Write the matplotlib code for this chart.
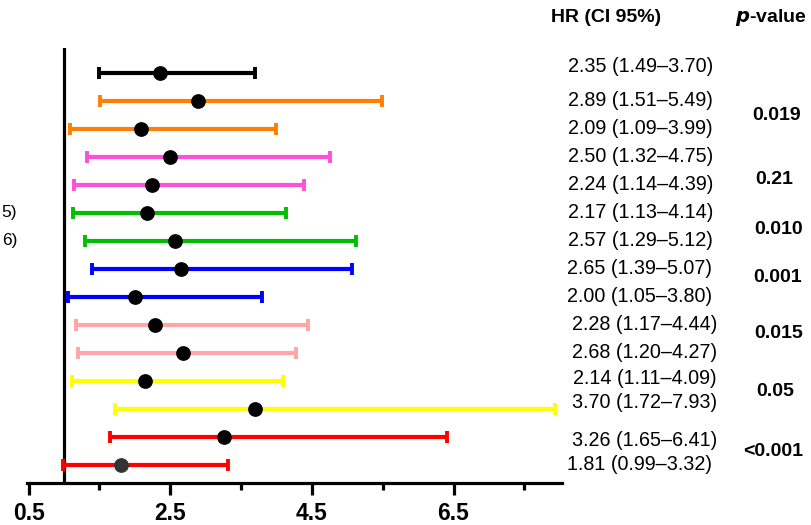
import matplotlib
matplotlib.use("Agg")
import matplotlib.pyplot as plt
from matplotlib.transforms import blended_transform_factory

plt.rcParams['font.family'] = ['Liberation Sans', 'DejaVu Sans']

# ---- data ----
hr = [2.35, 2.89, 2.09, 2.50, 2.24, 2.17, 2.57, 2.65, 2.00, 2.28, 2.68, 2.14, 3.70, 3.26, 1.81]
lo = [1.49, 1.51, 1.09, 1.32, 1.14, 1.13, 1.29, 1.39, 1.05, 1.17, 1.20, 1.11, 1.72, 1.65, 0.99]
hi = [3.70, 5.49, 3.99, 4.75, 4.39, 4.14, 5.12, 5.07, 3.80, 4.44, 4.27, 4.09, 7.93, 6.41, 3.32]
colors = ['#000000', '#FF8000', '#FF8000', '#FF50D8', '#FF50D8', '#00BF00', '#00BF00',
          '#0000FF', '#0000FF', '#FFA6A6', '#FFA6A6', '#FFFF00', '#FFFF00', '#FF0000', '#FF0000']
marker_colors = ['#000000'] * 14 + ['#333333']
pvals = ['0.019', '0.21', '0.010', '0.001', '0.015', '0.05', '<0.001']
left_fragments = ['5)', '6)']
major_ticks = [0.5, 2.5, 4.5, 6.5]
minor_ticks = [1.5, 3.5, 5.5, 7.5]

# ---- layout (pixels) ----
W, H = 812, 525
fig = plt.figure(figsize=(W / 100, H / 100), dpi=100)
ax_left, ax_right, ax_top, ax_bot = 26.7, 562.3, 48, 483
ax = fig.add_axes([ax_left / W, 1 - ax_bot / H, (ax_right - ax_left) / W, (ax_bot - ax_top) / H])

px_per_unit = 70.8
x0_px = 28.7  # pixel of 0.5
ax.set_xlim(0.5 - (x0_px - ax_left) / px_per_unit, 0.5 + (ax_right - x0_px) / px_per_unit)
row0, row_step = 73, 28
ax.set_ylim((ax_bot - row0) / row_step, (ax_top - row0) / row_step)

n = len(hr)
for i in range(n):
    ax.errorbar([hr[i]], [i], xerr=[[hr[i] - lo[i]], [hi[i] - hr[i]]],
                fmt='none', ecolor=colors[i], elinewidth=3.0, capsize=4.4, capthick=2.8,
                clip_on=False, zorder=2)
    ax.plot([hr[i]], [i], 'o', color=marker_colors[i], markersize=9.6, zorder=3, clip_on=False)

ax.axvline(1.0, color='black', lw=2.3, zorder=1)

for s in ['top', 'right', 'left']:
    ax.spines[s].set_visible(False)
ax.spines['bottom'].set_linewidth(2.3)
ax.set_yticks([])
ax.set_xticks(major_ticks)
ax.set_xticks(minor_ticks, minor=True)
ax.set_xticklabels([f'{t}' for t in major_ticks], fontsize=16.5, fontweight='bold')
ax.tick_params(axis='x', which='major', length=8.6, width=2.3, pad=5)
ax.tick_params(axis='x', which='minor', length=5, width=2.3)

# ---- text columns ----
tr = blended_transform_factory(fig.transFigure, ax.transData)

def ypx(p):
    return (p - row0) / row_step

fig.text(606 / W, 1 - 18 / H, 'HR (CI 95%)', fontsize=14, fontweight='bold', ha='center', va='center')
fig.text(771 / W, 1 - 18 / H, r'$\bfit{p}$-value', fontsize=14, fontweight='bold', ha='center', va='center')

label_x = [568, 568, 568, 568, 568, 568, 568, 567, 567, 572, 572, 573, 572, 572, 567]
label_y = [67, 100, 129, 156, 184, 212, 240, 269, 297, 325, 353, 378, 403, 440, 465]
for i in range(n):
    txt = f'{hr[i]:.2f} ({lo[i]:.2f}\u2013{hi[i]:.2f})'
    ax.text(label_x[i] / W, ypx(label_y[i]), txt, transform=tr, fontsize=14.2,
            ha='left', va='center')

p_x = [777, 774, 779, 778, 779, 775, 773]
p_y = [115, 180, 230, 278, 333, 392, 452]
for s, xp, yp in zip(pvals, p_x, p_y):
    ax.text(xp / W, ypx(yp), s, transform=tr, fontsize=14, fontweight='bold',
            ha='center', va='center')

# cropped labels at the left edge
for s, xp, yp in zip(left_fragments, [1, 2], [212, 240]):
    ax.text(xp / W, ypx(yp), s, transform=tr, fontsize=12.5, ha='left', va='center')

fig.savefig('out.png', dpi=100)
